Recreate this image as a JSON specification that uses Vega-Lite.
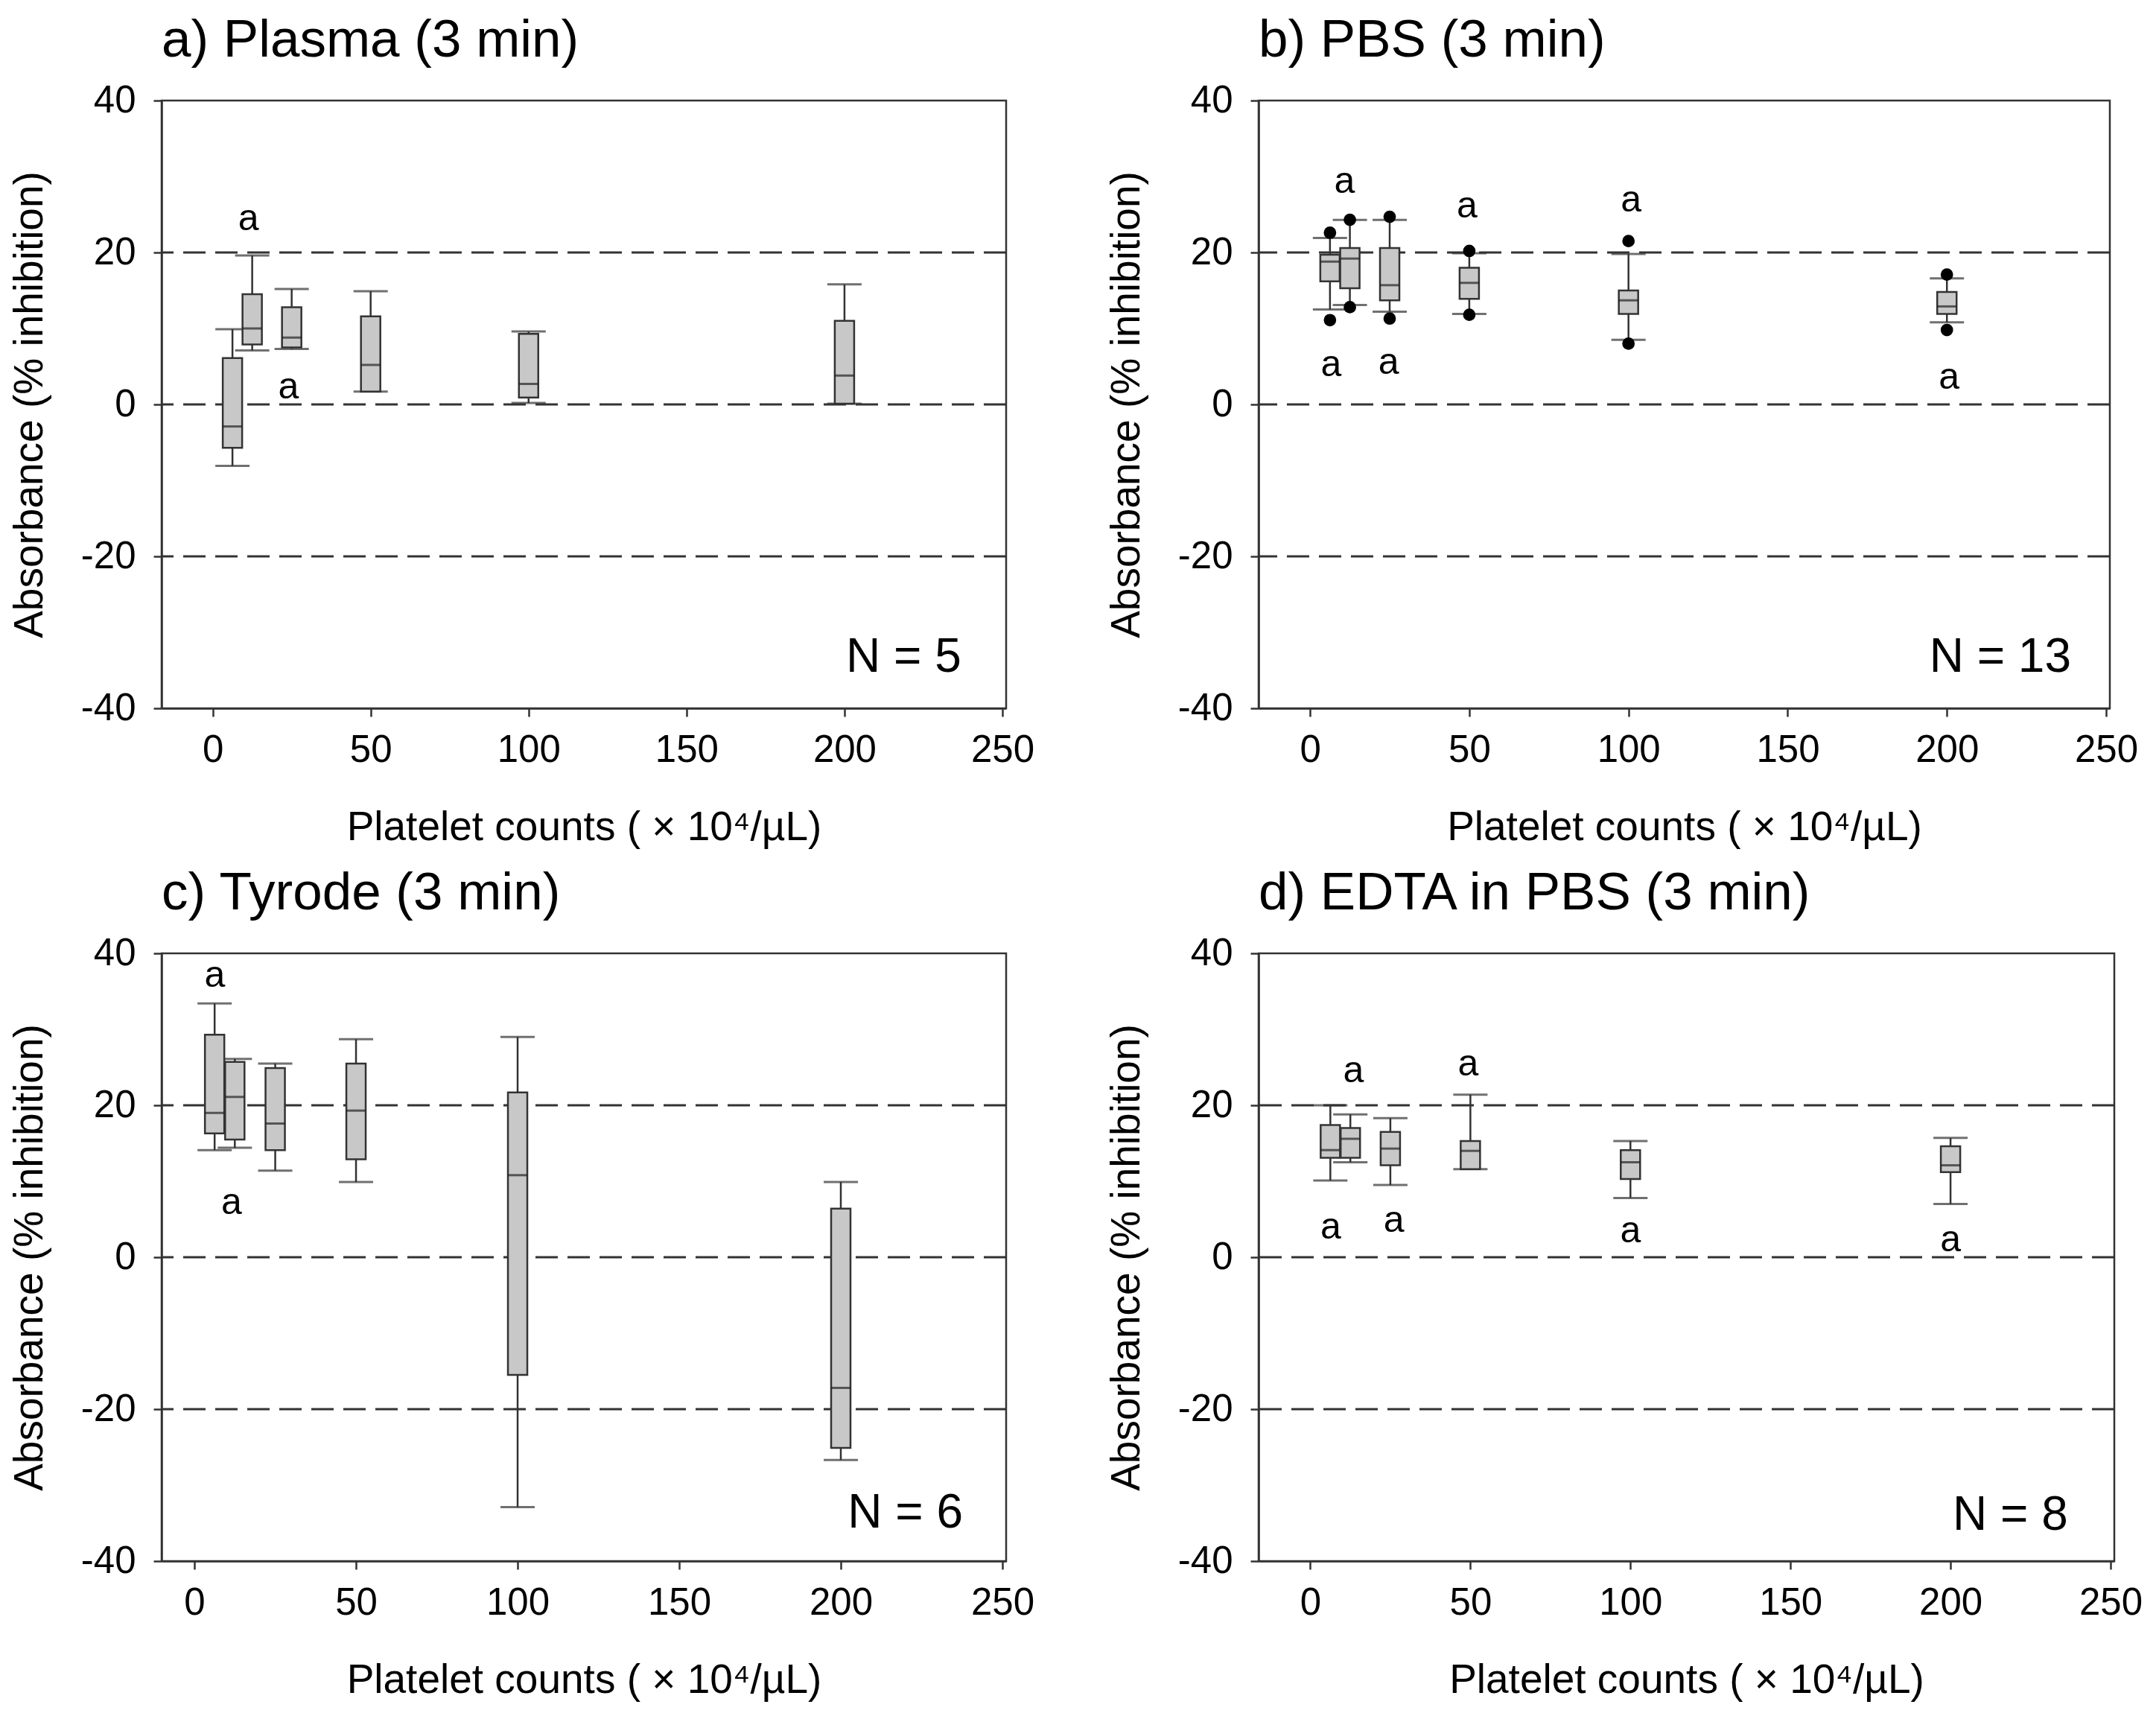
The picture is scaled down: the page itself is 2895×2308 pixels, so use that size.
{
  "$schema": "https://vega.github.io/schema/vega-lite/v6.json",
  "padding": {"left": 11, "top": 17, "right": 5, "bottom": 5},
  "background": "white",
  "datasets": {
    "refs": [{"y": -20}, {"y": 0}, {"y": 20}],
    "boxes": [
      {"p": "a", "x": 6.25, "wlo": -8.1, "q1": -5.7, "med": -2.9, "q3": 6.1, "whi": 9.9},
      {"p": "a", "x": 12.5, "wlo": 7.1, "q1": 7.9, "med": 10.0, "q3": 14.5, "whi": 19.6},
      {"p": "a", "x": 25, "wlo": 7.3, "q1": 7.5, "med": 8.8, "q3": 12.8, "whi": 15.2},
      {"p": "a", "x": 50, "wlo": 1.7, "q1": 1.7, "med": 5.2, "q3": 11.6, "whi": 14.9},
      {"p": "a", "x": 100, "wlo": 0.2, "q1": 0.9, "med": 2.7, "q3": 9.3, "whi": 9.6},
      {"p": "a", "x": 200, "wlo": 0.1, "q1": 0.1, "med": 3.8, "q3": 11.0, "whi": 15.8},
      {"p": "b", "x": 6.25, "wlo": 12.5, "q1": 16.2, "med": 18.8, "q3": 19.7, "whi": 21.9},
      {"p": "b", "x": 12.5, "wlo": 13.1, "q1": 15.3, "med": 19.2, "q3": 20.6, "whi": 24.3},
      {"p": "b", "x": 25, "wlo": 12.2, "q1": 13.7, "med": 15.7, "q3": 20.6, "whi": 24.3},
      {"p": "b", "x": 50, "wlo": 11.9, "q1": 13.9, "med": 16.0, "q3": 18.0, "whi": 19.9},
      {"p": "b", "x": 100, "wlo": 8.5, "q1": 11.9, "med": 13.7, "q3": 15.0, "whi": 19.8},
      {"p": "b", "x": 200, "wlo": 10.8, "q1": 11.9, "med": 12.9, "q3": 14.8, "whi": 16.6},
      {"p": "c", "x": 6.25, "wlo": 14.1, "q1": 16.3, "med": 19.0, "q3": 29.3, "whi": 33.4},
      {"p": "c", "x": 12.5, "wlo": 14.4, "q1": 15.5, "med": 21.1, "q3": 25.7, "whi": 26.1},
      {"p": "c", "x": 25, "wlo": 11.4, "q1": 14.1, "med": 17.6, "q3": 24.9, "whi": 25.5},
      {"p": "c", "x": 50, "wlo": 9.9, "q1": 12.9, "med": 19.3, "q3": 25.5, "whi": 28.7},
      {"p": "c", "x": 100, "wlo": -32.9, "q1": -15.5, "med": 10.8, "q3": 21.7, "whi": 29.0},
      {"p": "c", "x": 200, "wlo": -26.7, "q1": -25.1, "med": -17.2, "q3": 6.4, "whi": 9.9},
      {"p": "d", "x": 6.25, "wlo": 10.1, "q1": 13.1, "med": 14.1, "q3": 17.4, "whi": 20.0},
      {"p": "d", "x": 12.5, "wlo": 12.5, "q1": 13.1, "med": 15.6, "q3": 17.0, "whi": 18.8},
      {"p": "d", "x": 25, "wlo": 9.5, "q1": 12.1, "med": 14.3, "q3": 16.5, "whi": 18.3},
      {"p": "d", "x": 50, "wlo": 11.6, "q1": 11.6, "med": 14.0, "q3": 15.3, "whi": 21.4},
      {"p": "d", "x": 100, "wlo": 7.8, "q1": 10.3, "med": 12.5, "q3": 14.1, "whi": 15.3},
      {"p": "d", "x": 200, "wlo": 7.0, "q1": 11.2, "med": 12.1, "q3": 14.6, "whi": 15.7}
    ],
    "dots": [
      {"p": "b", "x": 6.25, "y": 22.6}, {"p": "b", "x": 6.25, "y": 11.1},
      {"p": "b", "x": 12.5, "y": 24.3}, {"p": "b", "x": 12.5, "y": 12.8},
      {"p": "b", "x": 25, "y": 24.7}, {"p": "b", "x": 25, "y": 11.3},
      {"p": "b", "x": 50, "y": 20.2}, {"p": "b", "x": 50, "y": 11.8},
      {"p": "b", "x": 100, "y": 21.5}, {"p": "b", "x": 100, "y": 8.0},
      {"p": "b", "x": 200, "y": 17.1}, {"p": "b", "x": 200, "y": 9.8}
    ],
    "letters": [
      {"p": "a", "x": 11.3, "y": 24.4, "t": "a"},
      {"p": "a", "x": 24, "y": 2.3, "t": "a"},
      {"p": "b", "x": 10.8, "y": 29.3, "t": "a"},
      {"p": "b", "x": 6.6, "y": 5.2, "t": "a"},
      {"p": "b", "x": 24.7, "y": 5.5, "t": "a"},
      {"p": "b", "x": 49.3, "y": 26.1, "t": "a"},
      {"p": "b", "x": 100.8, "y": 26.9, "t": "a"},
      {"p": "b", "x": 200.7, "y": 3.5, "t": "a"},
      {"p": "c", "x": 6.3, "y": 37.1, "t": "a"},
      {"p": "c", "x": 11.5, "y": 7.2, "t": "a"},
      {"p": "d", "x": 13.5, "y": 24.5, "t": "a"},
      {"p": "d", "x": 6.4, "y": 3.9, "t": "a"},
      {"p": "d", "x": 26.1, "y": 4.8, "t": "a"},
      {"p": "d", "x": 49.3, "y": 25.4, "t": "a"},
      {"p": "d", "x": 100, "y": 3.4, "t": "a"},
      {"p": "d", "x": 200, "y": 2.3, "t": "a"}
    ],
    "notes": [
      {"p": "a", "x": 237, "y": -33.3, "t": "N = 5"},
      {"p": "b", "x": 239, "y": -33.3, "t": "N = 13"},
      {"p": "c", "x": 237.8, "y": -33.7, "t": "N = 6"},
      {"p": "d", "x": 236.7, "y": -34, "t": "N = 8"}
    ]
  },
  "spacing": 22,
  "vconcat": [
    {
      "spacing": 94,
      "hconcat": [
        {
          "title": "a) Plasma (3 min)",
          "width": 1134,
          "height": 816,
          "layer": [
            {
              "data": {"name": "refs"},
              "mark": {"type": "rule", "strokeDash": [30, 13], "strokeWidth": 3, "color": "#333"},
              "encoding": {
                "y": {"field": "y", "type": "quantitative", "scale": {"domain": [-40, 40], "nice": false}, "axis": {"values": [-40, -20, 0, 20, 40], "labelExpr": "'' + datum.value", "title": "Absorbance (% inhibition)"}}
              }
            },
            {
              "data": {"name": "boxes"},
              "transform": [{"filter": "datum.p == 'a'"}],
              "mark": {"type": "rule", "color": "#333", "strokeWidth": 2.5},
              "encoding": {
                "x": {"field": "x", "type": "quantitative", "scale": {"domain": [-15, 250], "nice": false, "zero": false}, "axis": {"values": [0, 50, 100, 150, 200, 250], "title": "Platelet counts ( × 10⁴/µL)"}},
                "y": {"field": "wlo", "type": "quantitative"},
                "y2": {"field": "whi"}
              }
            },
            {
              "data": {"name": "boxes"},
              "transform": [{"filter": "datum.p == 'a'"}, {"fold": ["wlo", "whi"], "as": ["k", "v"]}],
              "mark": {"type": "tick", "orient": "horizontal", "size": 46, "thickness": 3, "color": "#333"},
              "encoding": {"x": {"field": "x", "type": "quantitative"}, "y": {"field": "v", "type": "quantitative"}}
            },
            {
              "data": {"name": "boxes"},
              "transform": [{"filter": "datum.p == 'a'"}],
              "mark": {"type": "bar", "orient": "vertical", "size": 26, "fill": "#c8c8c8", "stroke": "#333", "strokeWidth": 2.5},
              "encoding": {"x": {"field": "x", "type": "quantitative"}, "y": {"field": "q1", "type": "quantitative"}, "y2": {"field": "q3"}}
            },
            {
              "data": {"name": "boxes"},
              "transform": [{"filter": "datum.p == 'a'"}],
              "mark": {"type": "tick", "orient": "horizontal", "size": 26, "thickness": 3, "color": "#222"},
              "encoding": {"x": {"field": "x", "type": "quantitative"}, "y": {"field": "med", "type": "quantitative"}}
            },
            {
              "data": {"name": "letters"},
              "transform": [{"filter": "datum.p == 'a'"}],
              "mark": {"type": "text", "fontSize": 50, "baseline": "middle", "color": "#000"},
              "encoding": {"x": {"field": "x", "type": "quantitative"}, "y": {"field": "y", "type": "quantitative"}, "text": {"field": "t"}}
            },
            {
              "data": {"name": "notes"},
              "transform": [{"filter": "datum.p == 'a'"}],
              "mark": {"type": "text", "fontSize": 64, "align": "right", "baseline": "middle", "color": "#000"},
              "encoding": {"x": {"field": "x", "type": "quantitative"}, "y": {"field": "y", "type": "quantitative"}, "text": {"field": "t"}}
            }
          ]
        },
        {
          "title": "b) PBS (3 min)",
          "width": 1143,
          "height": 816,
          "layer": [
            {
              "data": {"name": "refs"},
              "mark": {"type": "rule", "strokeDash": [30, 13], "strokeWidth": 3, "color": "#333"},
              "encoding": {
                "y": {"field": "y", "type": "quantitative", "scale": {"domain": [-40, 40], "nice": false}, "axis": {"values": [-40, -20, 0, 20, 40], "labelExpr": "'' + datum.value", "title": "Absorbance (% inhibition)"}}
              }
            },
            {
              "data": {"name": "boxes"},
              "transform": [{"filter": "datum.p == 'b'"}],
              "mark": {"type": "rule", "color": "#333", "strokeWidth": 2.5},
              "encoding": {
                "x": {"field": "x", "type": "quantitative", "scale": {"domain": [-15, 250], "nice": false, "zero": false}, "axis": {"values": [0, 50, 100, 150, 200, 250], "title": "Platelet counts ( × 10⁴/µL)"}},
                "y": {"field": "wlo", "type": "quantitative"},
                "y2": {"field": "whi"}
              }
            },
            {
              "data": {"name": "boxes"},
              "transform": [{"filter": "datum.p == 'b'"}, {"fold": ["wlo", "whi"], "as": ["k", "v"]}],
              "mark": {"type": "tick", "orient": "horizontal", "size": 46, "thickness": 3, "color": "#333"},
              "encoding": {"x": {"field": "x", "type": "quantitative"}, "y": {"field": "v", "type": "quantitative"}}
            },
            {
              "data": {"name": "boxes"},
              "transform": [{"filter": "datum.p == 'b'"}],
              "mark": {"type": "bar", "orient": "vertical", "size": 26, "fill": "#c8c8c8", "stroke": "#333", "strokeWidth": 2.5},
              "encoding": {"x": {"field": "x", "type": "quantitative"}, "y": {"field": "q1", "type": "quantitative"}, "y2": {"field": "q3"}}
            },
            {
              "data": {"name": "boxes"},
              "transform": [{"filter": "datum.p == 'b'"}],
              "mark": {"type": "tick", "orient": "horizontal", "size": 26, "thickness": 3, "color": "#222"},
              "encoding": {"x": {"field": "x", "type": "quantitative"}, "y": {"field": "med", "type": "quantitative"}}
            },
            {
              "data": {"name": "dots"},
              "transform": [{"filter": "datum.p == 'b'"}],
              "mark": {"type": "point", "filled": true, "size": 280, "color": "#000", "opacity": 1},
              "encoding": {"x": {"field": "x", "type": "quantitative"}, "y": {"field": "y", "type": "quantitative"}}
            },
            {
              "data": {"name": "letters"},
              "transform": [{"filter": "datum.p == 'b'"}],
              "mark": {"type": "text", "fontSize": 50, "baseline": "middle", "color": "#000"},
              "encoding": {"x": {"field": "x", "type": "quantitative"}, "y": {"field": "y", "type": "quantitative"}, "text": {"field": "t"}}
            },
            {
              "data": {"name": "notes"},
              "transform": [{"filter": "datum.p == 'b'"}],
              "mark": {"type": "text", "fontSize": 64, "align": "right", "baseline": "middle", "color": "#000"},
              "encoding": {"x": {"field": "x", "type": "quantitative"}, "y": {"field": "y", "type": "quantitative"}, "text": {"field": "t"}}
            }
          ]
        }
      ]
    },
    {
      "spacing": 94,
      "hconcat": [
        {
          "title": "c) Tyrode (3 min)",
          "width": 1134,
          "height": 816,
          "layer": [
            {
              "data": {"name": "refs"},
              "mark": {"type": "rule", "strokeDash": [30, 13], "strokeWidth": 3, "color": "#333"},
              "encoding": {
                "y": {"field": "y", "type": "quantitative", "scale": {"domain": [-40, 40], "nice": false}, "axis": {"values": [-40, -20, 0, 20, 40], "labelExpr": "'' + datum.value", "title": "Absorbance (% inhibition)"}}
              }
            },
            {
              "data": {"name": "boxes"},
              "transform": [{"filter": "datum.p == 'c'"}],
              "mark": {"type": "rule", "color": "#333", "strokeWidth": 2.5},
              "encoding": {
                "x": {"field": "x", "type": "quantitative", "scale": {"domain": [-9, 250], "nice": false, "zero": false}, "axis": {"values": [0, 50, 100, 150, 200, 250], "title": "Platelet counts ( × 10⁴/µL)"}},
                "y": {"field": "wlo", "type": "quantitative"},
                "y2": {"field": "whi"}
              }
            },
            {
              "data": {"name": "boxes"},
              "transform": [{"filter": "datum.p == 'c'"}, {"fold": ["wlo", "whi"], "as": ["k", "v"]}],
              "mark": {"type": "tick", "orient": "horizontal", "size": 46, "thickness": 3, "color": "#333"},
              "encoding": {"x": {"field": "x", "type": "quantitative"}, "y": {"field": "v", "type": "quantitative"}}
            },
            {
              "data": {"name": "boxes"},
              "transform": [{"filter": "datum.p == 'c'"}],
              "mark": {"type": "bar", "orient": "vertical", "size": 26, "fill": "#c8c8c8", "stroke": "#333", "strokeWidth": 2.5},
              "encoding": {"x": {"field": "x", "type": "quantitative"}, "y": {"field": "q1", "type": "quantitative"}, "y2": {"field": "q3"}}
            },
            {
              "data": {"name": "boxes"},
              "transform": [{"filter": "datum.p == 'c'"}],
              "mark": {"type": "tick", "orient": "horizontal", "size": 26, "thickness": 3, "color": "#222"},
              "encoding": {"x": {"field": "x", "type": "quantitative"}, "y": {"field": "med", "type": "quantitative"}}
            },
            {
              "data": {"name": "letters"},
              "transform": [{"filter": "datum.p == 'c'"}],
              "mark": {"type": "text", "fontSize": 50, "baseline": "middle", "color": "#000"},
              "encoding": {"x": {"field": "x", "type": "quantitative"}, "y": {"field": "y", "type": "quantitative"}, "text": {"field": "t"}}
            },
            {
              "data": {"name": "notes"},
              "transform": [{"filter": "datum.p == 'c'"}],
              "mark": {"type": "text", "fontSize": 64, "align": "right", "baseline": "middle", "color": "#000"},
              "encoding": {"x": {"field": "x", "type": "quantitative"}, "y": {"field": "y", "type": "quantitative"}, "text": {"field": "t"}}
            }
          ]
        },
        {
          "title": "d) EDTA in PBS (3 min)",
          "width": 1149,
          "height": 816,
          "layer": [
            {
              "data": {"name": "refs"},
              "mark": {"type": "rule", "strokeDash": [30, 13], "strokeWidth": 3, "color": "#333"},
              "encoding": {
                "y": {"field": "y", "type": "quantitative", "scale": {"domain": [-40, 40], "nice": false}, "axis": {"values": [-40, -20, 0, 20, 40], "labelExpr": "'' + datum.value", "title": "Absorbance (% inhibition)"}}
              }
            },
            {
              "data": {"name": "boxes"},
              "transform": [{"filter": "datum.p == 'd'"}],
              "mark": {"type": "rule", "color": "#333", "strokeWidth": 2.5},
              "encoding": {
                "x": {"field": "x", "type": "quantitative", "scale": {"domain": [-15, 250], "nice": false, "zero": false}, "axis": {"values": [0, 50, 100, 150, 200, 250], "title": "Platelet counts ( × 10⁴/µL)"}},
                "y": {"field": "wlo", "type": "quantitative"},
                "y2": {"field": "whi"}
              }
            },
            {
              "data": {"name": "boxes"},
              "transform": [{"filter": "datum.p == 'd'"}, {"fold": ["wlo", "whi"], "as": ["k", "v"]}],
              "mark": {"type": "tick", "orient": "horizontal", "size": 46, "thickness": 3, "color": "#333"},
              "encoding": {"x": {"field": "x", "type": "quantitative"}, "y": {"field": "v", "type": "quantitative"}}
            },
            {
              "data": {"name": "boxes"},
              "transform": [{"filter": "datum.p == 'd'"}],
              "mark": {"type": "bar", "orient": "vertical", "size": 26, "fill": "#c8c8c8", "stroke": "#333", "strokeWidth": 2.5},
              "encoding": {"x": {"field": "x", "type": "quantitative"}, "y": {"field": "q1", "type": "quantitative"}, "y2": {"field": "q3"}}
            },
            {
              "data": {"name": "boxes"},
              "transform": [{"filter": "datum.p == 'd'"}],
              "mark": {"type": "tick", "orient": "horizontal", "size": 26, "thickness": 3, "color": "#222"},
              "encoding": {"x": {"field": "x", "type": "quantitative"}, "y": {"field": "med", "type": "quantitative"}}
            },
            {
              "data": {"name": "letters"},
              "transform": [{"filter": "datum.p == 'd'"}],
              "mark": {"type": "text", "fontSize": 50, "baseline": "middle", "color": "#000"},
              "encoding": {"x": {"field": "x", "type": "quantitative"}, "y": {"field": "y", "type": "quantitative"}, "text": {"field": "t"}}
            },
            {
              "data": {"name": "notes"},
              "transform": [{"filter": "datum.p == 'd'"}],
              "mark": {"type": "text", "fontSize": 64, "align": "right", "baseline": "middle", "color": "#000"},
              "encoding": {"x": {"field": "x", "type": "quantitative"}, "y": {"field": "y", "type": "quantitative"}, "text": {"field": "t"}}
            }
          ]
        }
      ]
    }
  ],
  "config": {
    "font": "Liberation Sans",
    "view": {"stroke": "#333", "strokeWidth": 2.5},
    "axis": {
      "grid": false,
      "domainColor": "#333",
      "domainWidth": 2.5,
      "tickColor": "#333",
      "tickWidth": 2.5,
      "tickSize": 11,
      "labelFontSize": 51,
      "labelColor": "#000",
      "titleFontSize": 55,
      "titleFontWeight": "normal",
      "titleColor": "#000",
      "labelFlush": false,
      "labelOverlap": false
    },
    "axisX": {"labelPadding": 20, "titlePadding": 52},
    "axisY": {"labelPadding": 24, "titlePadding": 40},
    "title": {"fontSize": 71, "fontWeight": "normal", "anchor": "start", "color": "#000", "offset": 18, "frame": "group"}
  }
}
